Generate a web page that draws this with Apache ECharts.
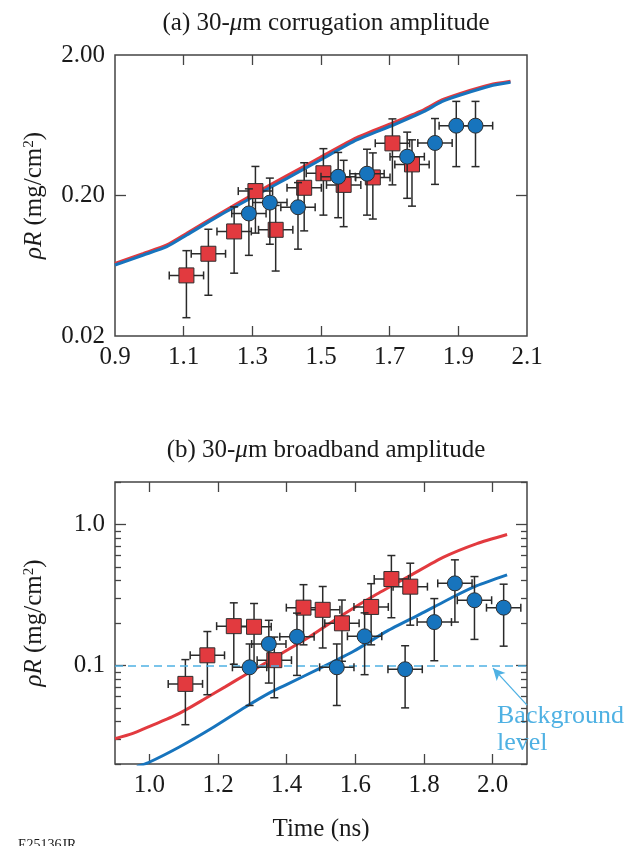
<!DOCTYPE html>
<html>
<head>
<meta charset="utf-8">
<script src="https://cdn.jsdelivr.net/npm/echarts@6/dist/echarts.min.js"></script>
<style>
  html, body { margin: 0; padding: 0; background: #fff; }
  #chart { width: 637px; height: 846px; }
</style>
</head>
<body>
<div id="chart"></div>
<script>
// (a) 30-um corrugation amplitude
const topCurveT = [0.900, 0.983, 1.051, 1.109, 1.206, 1.303, 1.401, 1.498, 1.604, 1.711, 1.799, 1.852, 1.906, 1.993, 2.052];
const topRedCurve = [0.0658, 0.0775, 0.0889, 0.1076, 0.149, 0.204, 0.277, 0.374, 0.516, 0.660, 0.813, 0.957, 1.067, 1.229, 1.30];
const topBlueCurve = [0.0640, 0.0754, 0.0865, 0.1047, 0.145, 0.196, 0.265, 0.358, 0.497, 0.635, 0.790, 0.931, 1.038, 1.203, 1.278];

const topRedT = [1.108, 1.172, 1.247, 1.309, 1.368, 1.451, 1.507, 1.566, 1.651, 1.708, 1.765];
const topRedR = [0.054, 0.077, 0.111, 0.215, 0.114, 0.227, 0.288, 0.238, 0.269, 0.470, 0.333];
const topRedErr = [0.027, 0.038, 0.055, 0.107, 0.056, 0.115, 0.143, 0.118, 0.133, 0.232, 0.165];

const topBlueT = [1.290, 1.351, 1.433, 1.550, 1.634, 1.751, 1.832, 1.894, 1.950];
const topBlueR = [0.149, 0.178, 0.165, 0.272, 0.286, 0.378, 0.473, 0.628, 0.628];
const topBlueErr = [0.074, 0.088, 0.082, 0.133, 0.141, 0.187, 0.233, 0.307, 0.307];

// (b) 30-um broadband amplitude
const botRedCurveT = [0.900, 0.950, 1.008, 1.066, 1.105, 1.163, 1.222, 1.280, 1.338, 1.371, 1.469, 1.566, 1.663, 1.760, 1.857, 1.954, 2.042];
const botRedCurve = [0.0302, 0.0328, 0.0376, 0.0431, 0.0482, 0.0583, 0.0708, 0.086, 0.104, 0.116, 0.161, 0.231, 0.321, 0.434, 0.586, 0.731, 0.848];
const botBlueCurveT = [0.964, 0.998, 1.086, 1.183, 1.280, 1.358, 1.401, 1.498, 1.595, 1.692, 1.789, 1.886, 1.954, 2.042];
const botBlueCurve = [0.0192, 0.0205, 0.0263, 0.0360, 0.0508, 0.0655, 0.0735, 0.0957, 0.126, 0.175, 0.231, 0.307, 0.368, 0.439];

const botRedT = [1.105, 1.169, 1.246, 1.305, 1.364, 1.449, 1.505, 1.561, 1.646, 1.705, 1.760];
const botRedR = [0.074, 0.118, 0.190, 0.188, 0.109, 0.257, 0.248, 0.199, 0.260, 0.410, 0.362];
const botRedErr = [0.036, 0.056, 0.088, 0.087, 0.050, 0.117, 0.115, 0.092, 0.120, 0.192, 0.169];

const botBlueT = [1.292, 1.348, 1.430, 1.546, 1.627, 1.745, 1.830, 1.890, 1.947, 2.032];
const botBlueR = [0.097, 0.142, 0.160, 0.097, 0.161, 0.094, 0.203, 0.382, 0.290, 0.257];
const botBlueErr = [0.045, 0.067, 0.075, 0.045, 0.075, 0.044, 0.095, 0.179, 0.137, 0.120];

const timeErr = 0.05;
const backgroundLevel = 0.1;
const arrowTail = [2.100, 0.0523];
const arrowHead = [2.001, 0.0957];

// ticks and labels
const topTimeTicks = [1.1, 1.3, 1.5, 1.7, 1.9];
const topTimeLabels = [0.9, 1.1, 1.3, 1.5, 1.7, 1.9, 2.1];
const botTimeTicks = [1.0, 1.2, 1.4, 1.6, 1.8, 2.0];
const topRhoTicks = [0.2];
const topRhoLabels = [0.02, 0.2, 2];
const botRhoMajor = [0.1, 1];
const botRhoMinor = [0.02, 0.03, 0.04, 0.05, 0.06, 0.07, 0.08, 0.09, 0.2, 0.3, 0.4, 0.5, 0.6, 0.7, 0.8, 0.9, 2];

const FONT = "'Liberation Serif', 'Times New Roman', serif";
const INK = '#1a1a1a';
const FRAME = '#444';
const RED = '#e23a3f';
const BLUE = '#1774bd';
const SKY = '#4fb1e3';

const zip = (a, b) => a.map((v, i) => [v, b[i]]);
const withErr = (t, r, e) => t.map((v, i) => [v, r[i], e[i], timeErr]);

const chart = echarts.init(document.getElementById('chart'));

function timeAxis(grid, pos, ticks, labels, name) {
    return {
        type: 'value', gridIndex: grid, position: pos, min: 0.9, max: 2.1,
        axisLine: { show: false }, splitLine: { show: false },
        axisTick: { show: true, inside: true, length: 10, customValues: ticks, lineStyle: { color: FRAME, width: 1.3 } },
        axisLabel: labels ? {
            customValues: labels, formatter: v => v.toFixed(1),
            fontFamily: FONT, fontSize: 25, color: INK, margin: 9,
        } : { show: false },
        name: name || '', nameLocation: 'middle', nameGap: 53,
        nameTextStyle: { fontFamily: FONT, fontSize: 25, color: INK },
    };
}

function rhoAxis(grid, pos, ticks, len, labels, fmt, withName) {
    return {
        type: 'log', logBase: 10, gridIndex: grid, position: pos, min: 0.02, max: 2,
        axisLine: { show: false }, splitLine: { show: false },
        axisTick: { show: true, inside: true, length: len, customValues: ticks, lineStyle: { color: FRAME, width: 1.3 } },
        axisLabel: labels ? {
            customValues: labels, formatter: fmt,
            fontFamily: FONT, fontSize: 25, color: INK, margin: 10,
        } : { show: false },
        name: withName ? '{i|ρR} (mg/cm{s|2})' : '',
        nameLocation: 'middle', nameGap: 68, nameRotate: 90,
        nameTextStyle: {
            fontFamily: FONT, fontSize: 25, color: INK,
            rich: {
                i: { fontFamily: FONT, fontSize: 25, fontStyle: 'italic', color: INK },
                s: { fontFamily: FONT, fontSize: 15, color: INK, verticalAlign: 'top' },
            },
        },
    };
}

function errorBars(params, api) {
    const x = api.value(0), y = api.value(1), dy = api.value(2), dx = api.value(3);
    const top = api.coord([x, y + dy]);
    const bot = api.coord([x, y - dy]);
    const lft = api.coord([x - dx, y]);
    const rgt = api.coord([x + dx, y]);
    const cap = 4;
    const style = { stroke: '#2a2a2a', lineWidth: 1.5 };
    const seg = (x1, y1, x2, y2) => ({ type: 'line', shape: { x1, y1, x2, y2 }, style });
    return {
        type: 'group',
        children: [
            seg(top[0], top[1], bot[0], bot[1]),
            seg(top[0] - cap, top[1], top[0] + cap, top[1]),
            seg(bot[0] - cap, bot[1], bot[0] + cap, bot[1]),
            seg(lft[0], lft[1], rgt[0], rgt[1]),
            seg(lft[0], lft[1] - cap, lft[0], lft[1] + cap),
            seg(rgt[0], rgt[1] - cap, rgt[0], rgt[1] + cap),
        ],
    };
}

function curve(xi, yi, data, color, z) {
    return {
        type: 'line', xAxisIndex: xi, yAxisIndex: yi, data, smooth: 0.2, showSymbol: false,
        lineStyle: { color, width: 3 }, clip: true, z,
    };
}
function bars(xi, yi, data, z) {
    return { type: 'custom', xAxisIndex: xi, yAxisIndex: yi, data, renderItem: errorBars, encode: { x: 0, y: 1 }, z };
}
function marks(xi, yi, data, symbol, color, z) {
    return {
        type: 'scatter', xAxisIndex: xi, yAxisIndex: yi, data, symbol, symbolSize: 15,
        itemStyle: { color, borderColor: '#2e2e2e', borderWidth: 1, opacity: 1 }, z,
    };
}

const rhoFmtTop = v => v.toFixed(2);
const rhoFmtBot = v => v.toFixed(1);

chart.setOption({
    animation: false,
    title: [
        {
            text: '(a) 30-{i|μ}m corrugation amplitude', left: 321, top: 6, textAlign: 'center',
            textStyle: { fontFamily: FONT, fontSize: 25, fontWeight: 'normal', color: INK,
                rich: { i: { fontFamily: FONT, fontSize: 25, fontStyle: 'italic', color: INK } } },
        },
        {
            text: '(b) 30-{i|μ}m broadband amplitude', left: 321, top: 433, textAlign: 'center',
            textStyle: { fontFamily: FONT, fontSize: 25, fontWeight: 'normal', color: INK,
                rich: { i: { fontFamily: FONT, fontSize: 25, fontStyle: 'italic', color: INK } } },
        },
    ],
    grid: [
        { left: 115, top: 55, width: 412, height: 281, show: true, borderColor: FRAME, borderWidth: 1.5 },
        { left: 115, top: 482, width: 412, height: 282, show: true, borderColor: FRAME, borderWidth: 1.5 },
    ],
    xAxis: [
        timeAxis(0, 'bottom', topTimeTicks, topTimeLabels),
        timeAxis(0, 'top', topTimeTicks, null),
        timeAxis(1, 'bottom', botTimeTicks, botTimeTicks, 'Time (ns)'),
        timeAxis(1, 'top', botTimeTicks, null),
    ],
    yAxis: [
        rhoAxis(0, 'left', topRhoTicks, 11, topRhoLabels, rhoFmtTop, true),
        rhoAxis(0, 'right', topRhoTicks, 11, null),
        rhoAxis(1, 'left', botRhoMajor, 11, botRhoMajor, rhoFmtBot, true),
        rhoAxis(1, 'left', botRhoMinor, 6, null),
        rhoAxis(1, 'right', botRhoMajor, 11, null),
        rhoAxis(1, 'right', botRhoMinor, 6, null),
    ],
    graphic: [
        {
            type: 'text', left: 497, top: 703,
            style: { text: 'Background\nlevel', fontFamily: FONT, fontSize: 26, lineHeight: 27, fill: SKY },
        },
        {
            type: 'text', left: 18, top: 838,
            style: { text: 'E25136JR', fontFamily: FONT, fontSize: 14, fill: INK },
        },
    ],
    series: [
        curve(0, 0, zip(topCurveT, topRedCurve), RED, 2),
        curve(0, 0, zip(topCurveT, topBlueCurve), BLUE, 2),
        bars(0, 0, withErr(topRedT, topRedR, topRedErr), 3),
        marks(0, 0, zip(topRedT, topRedR), 'rect', RED, 4),
        bars(0, 0, withErr(topBlueT, topBlueR, topBlueErr), 5),
        marks(0, 0, zip(topBlueT, topBlueR), 'circle', BLUE, 6),

        {
            type: 'line', xAxisIndex: 2, yAxisIndex: 2, data: [], z: 2,
            markLine: {
                silent: true, symbol: 'none', label: { show: false },
                lineStyle: { color: SKY, type: [8, 5], width: 1.5 },
                data: [
                    { yAxis: backgroundLevel },
                    [
                        { coord: arrowTail, symbol: 'none', lineStyle: { color: SKY, type: 'solid', width: 1.3 } },
                        { coord: arrowHead, symbol: 'arrow', symbolSize: [9, 12] },
                    ],
                ],
            },
        },
        curve(2, 2, zip(botRedCurveT, botRedCurve), RED, 2),
        curve(2, 2, zip(botBlueCurveT, botBlueCurve), BLUE, 2),
        bars(2, 2, withErr(botRedT, botRedR, botRedErr), 3),
        marks(2, 2, zip(botRedT, botRedR), 'rect', RED, 4),
        bars(2, 2, withErr(botBlueT, botBlueR, botBlueErr), 5),
        marks(2, 2, zip(botBlueT, botBlueR), 'circle', BLUE, 6),
    ],
});
</script>
</body>
</html>
